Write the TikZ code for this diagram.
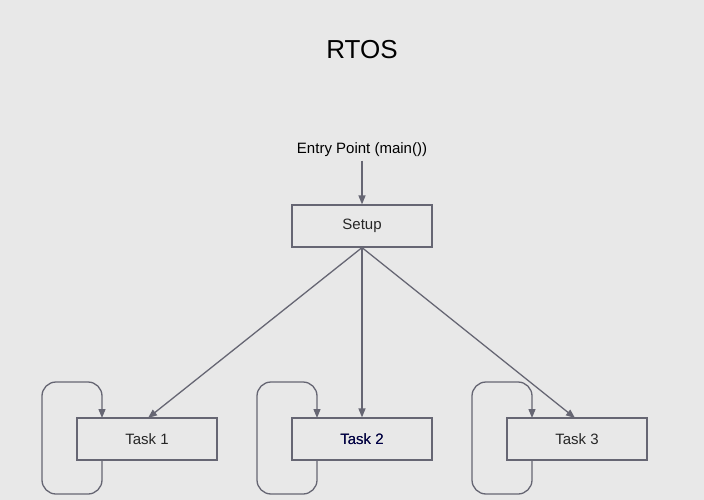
\documentclass[tikz,border=0pt]{standalone}
\usepackage{fontspec}
\setmainfont{Liberation Sans}
\usetikzlibrary{arrows.meta}
\definecolor{bg}{HTML}{E8E8E8}
\definecolor{ln}{HTML}{666673}
\begin{document}
\begin{tikzpicture}[x=1pt,y=-1pt,
  box/.style={draw=ln,line width=1.2pt,minimum width=140pt,minimum height=42pt,inner sep=0pt,font=\fontsize{15}{18}\selectfont,text=black!85},
  arr/.style={draw=ln,line width=1.3pt,-{Triangle[length=9pt,width=7pt]}},
  lp/.style={draw=ln,line width=1.3pt,rounded corners=14pt,-{Triangle[length=9pt,width=7pt]}}]
\fill[bg] (0,0) rectangle (704,500);
\useasboundingbox (0,0) rectangle (704,500);
\node (title) at (362,50) {\fontsize{26}{30}\selectfont RTOS};
\node (entry) at (362,150) {\fontsize{15}{18}\selectfont Entry Point (main())};
\node[box] (setup) at (362,226) {Setup};
\node[box] (t1) at (147,439) {Task 1};
\node[box] (t2) at (362,439) {Task 2};
\node[box,text=blue!30!black] (t2) at (362,439) {Task 2};
\node[box] (t3) at (577,439) {Task 3};
\draw[arr] (entry.south) -- (setup.north);
\draw[arr] (setup.south) -- (148,418);
\draw[arr] (setup.south) -- (t2.north);
\draw[arr] (setup.south) -- (575,418);
\foreach \n/\dx in {t1/0,t2/215,t3/430}{
  \draw[lp] (102+\dx,460) -- (102+\dx,494) -- (42+\dx,494) -- (42+\dx,382) -- (102+\dx,382) -- (102+\dx,418);
}
\end{tikzpicture}
\end{document}
